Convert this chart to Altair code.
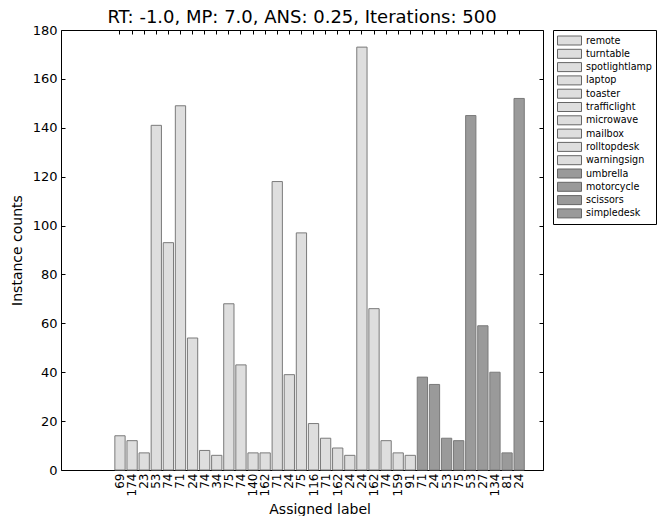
import altair as alt
import pandas as pd

# ---- data ----
tick_labels = ["69", "174", "23", "53", "74", "71", "24", "74", "34", "75", "74",
               "140", "162", "71", "24", "75", "116", "71", "162", "24", "24",
               "162", "74", "159", "91", "71", "24", "53", "75", "53", "27",
               "134", "81", "24"]
counts = [14, 12, 7, 141, 93, 149, 54, 8, 6, 68, 43, 7, 7, 118, 39, 97, 19, 13,
          9, 6, 173, 66, 12, 7, 6, 38, 35, 13, 12, 145, 59, 40, 7, 152]
bar_category = (["remote"] * 3 + ["turntable"] + ["spotlightlamp"] + ["laptop"] * 2
                + ["toaster"] * 2 + ["trafficlight"] * 4 + ["microwave"] * 2
                + ["mailbox"] * 5 + ["rolltopdesk"] + ["warningsign"] * 4
                + ["umbrella"] * 4 + ["motorcycle"] + ["scissors"] * 3
                + ["simpledesk"])
categories = ["remote", "turntable", "spotlightlamp", "laptop", "toaster",
              "trafficlight", "microwave", "mailbox", "rolltopdesk",
              "warningsign", "umbrella", "motorcycle", "scissors", "simpledesk"]
light, dark = "#dedede", "#9a9a9a"
cat_colors = [light] * 10 + [dark] * 4
y_ticks = list(range(0, 181, 20))

ids = [f"{lab}_{i}" for i, lab in enumerate(tick_labels)]
df = pd.DataFrame({"id": ids, "count": counts, "cat": bar_category})

FONT = "DejaVu Sans"

xscale = alt.Scale(domain=ids, range=[52.95, 464.2],
                   paddingInner=0.15, paddingOuter=0.075)
yscale = alt.Scale(domain=[0, 180], nice=False)

bars = alt.Chart(df).mark_bar(stroke="#7a7a7a", strokeWidth=1).encode(
    x=alt.X("id:N", scale=xscale, sort=ids,
            axis=alt.Axis(title="Assigned label", orient="bottom", offset=-4,
                          tickSize=4, labelAngle=270, labelAlign="right",
                          labelBaseline="middle", labelPadding=3,
                          labelExpr="split(datum.label, '_')[0]",
                          labelFontSize=12, titleFontSize=14, titlePadding=7,
                          labelFont=FONT, titleFont=FONT)),
    y=alt.Y("count:Q", scale=yscale,
            axis=alt.Axis(title="Instance counts", orient="left", offset=-4,
                          tickSize=4, values=y_ticks, labelPadding=4,
                          labelFontSize=13, titleFontSize=14, titlePadding=8,
                          labelFont=FONT, titleFont=FONT)),
    fill=alt.Fill("cat:N", scale=alt.Scale(domain=categories, range=cat_colors),
                  legend=alt.Legend(title=None, orient="none", legendX=492,
                                    legendY=0,
                                    symbolType="M-1,-0.75H3V0.75H-1Z",
                                    symbolSize=144, symbolStrokeColor="#666666",
                                    symbolStrokeWidth=1, symbolOpacity=1,
                                    labelFont=FONT, labelFontSize=9.6,
                                    labelColor="black", rowPadding=0.3,
                                    strokeColor="black", fillColor="white",
                                    padding=4, labelOffset=16)),
)

frame_axes = alt.Chart(df).mark_bar(opacity=0).encode(
    x=alt.X("id:N", scale=xscale, sort=ids,
            axis=alt.Axis(title=None, orient="top", offset=-4, tickSize=4,
                          labels=False)),
    y=alt.Y("count:Q", scale=yscale,
            axis=alt.Axis(title=None, orient="right", offset=-4, tickSize=4,
                          values=y_ticks, labels=False)),
)

chart = (
    alt.layer(bars, frame_axes)
    .resolve_axis(x="independent", y="independent")
    .properties(
        width=482, height=440,
        autosize=alt.AutoSizeParams(type="none"),
        padding={"left": 61, "top": 30, "right": 120, "bottom": 46},
        title=alt.Title("RT: -1.0, MP: 7.0, ANS: 0.25, Iterations: 500",
                        font=FONT, fontSize=18, fontWeight="normal",
                        anchor="middle", offset=-3, color="black"),
    )
    .configure_view(stroke="black", strokeWidth=1)
    .configure_axis(domain=False, grid=False, tickColor="black", tickWidth=1,
                    labelColor="black", titleColor="black",
                    titleFontWeight="normal")
)

chart.save("out.html", embed_options={"renderer": "svg", "actions": False})
